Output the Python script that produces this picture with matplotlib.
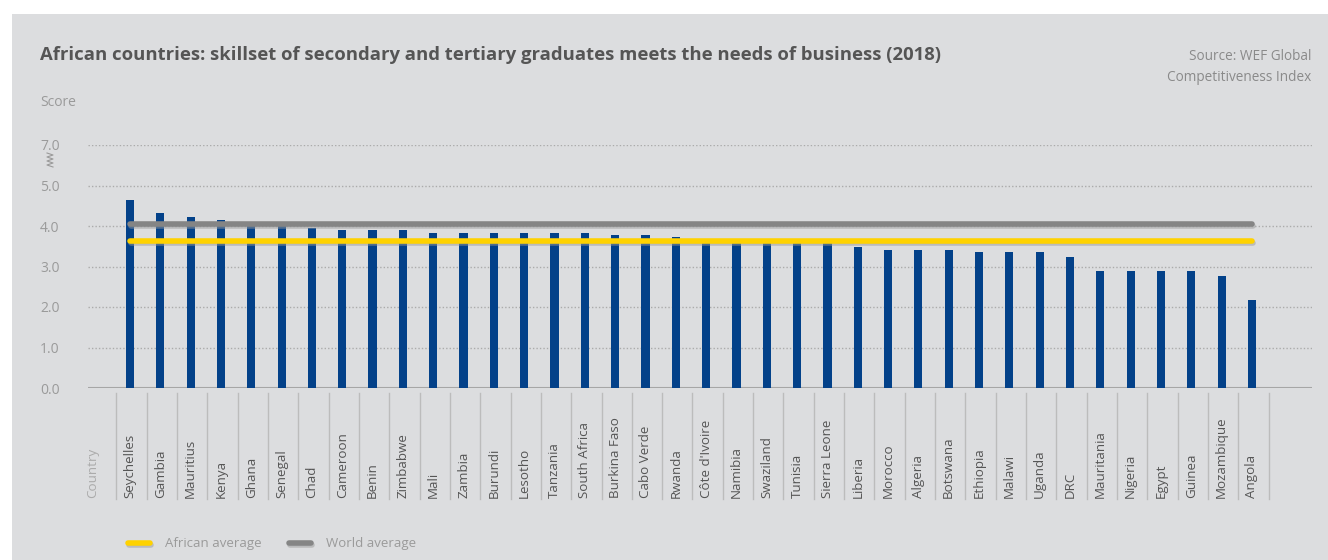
import matplotlib.pyplot as plt
import matplotlib.patheffects as pe
from matplotlib.lines import Line2D
from matplotlib.patches import Rectangle
import matplotlib.transforms as mtransforms

# -------------------------------------------------------------------------- #
# DONNEES
# -------------------------------------------------------------------------- #
pays = ['Seychelles', 'Gambia', 'Mauritius', 'Kenya', 'Ghana', 'Senegal', 'Chad',
        'Cameroon', 'Benin', 'Zimbabwe', 'Mali', 'Zambia', 'Burundi', 'Lesotho',
        'Tanzania', 'South Africa', 'Burkina Faso', 'Cabo Verde', 'Rwanda',
        "Côte d'Ivoire", 'Namibia', 'Swaziland', 'Tunisia', 'Sierra Leone',
        'Liberia', 'Morocco', 'Algeria', 'Botswana', 'Ethiopia', 'Malawi',
        'Uganda', 'DRC', 'Mauritania', 'Nigeria', 'Egypt', 'Guinea',
        'Mozambique', 'Angola']
scores = [4.63, 4.31, 4.21, 4.16, 4.0, 4.0, 3.94,
          3.89, 3.89, 3.89, 3.82, 3.82, 3.82, 3.82,
          3.82, 3.82, 3.77, 3.77, 3.72,
          3.62, 3.6, 3.6, 3.6, 3.6,
          3.47, 3.40, 3.40, 3.40, 3.35, 3.35,
          3.35, 3.23, 2.88, 2.88, 2.88, 2.88,
          2.76, 2.17]
moyenne_afrique = 3.62
moyenne_monde = 4.05

# l'axe est coupe : le 6e trait porte l'etiquette 7.0
graduations = [0, 1, 2, 3, 4, 5, 6]
etiquettes_y = ['0.0', '1.0', '2.0', '3.0', '4.0', '5.0', '7.0']

# -------------------------------------------------------------------------- #
# FIGURE
# -------------------------------------------------------------------------- #
W, H = 1328, 560
fig = plt.figure(figsize=(W / 100, H / 100), dpi=100)
fig.patch.set_facecolor('white')
fond = '#dcdddf'
fig.patches.append(Rectangle((12 / W, 0), 1, 1 - 14 / H, transform=fig.transFigure,
                             facecolor=fond, edgecolor='none', zorder=-10))

police = ['Open Sans', 'DejaVu Sans']

ax = fig.add_axes([88 / W, 1 - 388 / H, (1312 - 88) / W, (388 - 145) / H])
ax.set_facecolor('none')
for s in ax.spines.values():
    s.set_visible(False)

x = list(range(len(pays)))
ax.bar(x, scores, width=0.27, color='#034189', zorder=3)

ombre = [pe.SimpleLineShadow(offset=(0.8, -1.2), shadow_color='#9a9a9a', alpha=0.5), pe.Normal()]
ax.plot([x[0], x[-1]], [moyenne_monde] * 2, color='#858585', lw=4.0,
        solid_capstyle='round', zorder=4, path_effects=ombre)
ax.plot([x[0], x[-1]], [moyenne_afrique] * 2, color='#ffd200', lw=4.0,
        solid_capstyle='round', zorder=5, path_effects=ombre)

ax.set_xlim(-1.385, 38.98)
ax.set_ylim(0, 6)
ax.set_yticks(graduations)
ax.set_yticklabels(etiquettes_y, family=police, fontsize=10, color='#9a9a9a', ha='left')
ax.tick_params(axis='y', length=0, pad=48 / 1.389)
ax.set_xticks([])
for g in graduations[1:]:
    ax.axhline(g, color='#ababab', lw=1, ls=(0, (1, 1.5)), zorder=1)
ax.axhline(0, color='#a6a6a6', lw=1.5, zorder=2)

# separateurs et noms de pays
trans = mtransforms.blended_transform_factory(ax.transData, fig.transFigure)
for i in range(len(pays) + 1):
    xs = i - 0.5 + 0.05
    fig.lines.append(Line2D([xs, xs], [1 - 393 / H, 1 - 499 / H], transform=trans,
                            color='#bcbcbc', lw=1))
for i, p in enumerate(pays):
    fig.text(i, 1 - 498 / H, p, transform=trans, rotation=90, ha='center', va='bottom',
             family=police, fontsize=9.6, color='#555555')
fig.text(93 / W, 1 - 498 / H, 'Country', rotation=90, ha='center', va='bottom',
         family=police, fontsize=9.6, color='#ababab')

# symbole de coupure de l'axe
zx = [47, 53, 47, 53, 47, 53, 47, 53]
zy = [153, 155, 157, 159, 161, 163, 165, 167]
fig.lines.append(Line2D([v / W for v in zx], [1 - v / H for v in zy],
                        transform=fig.transFigure, color='#9a9a9a', lw=0.8))

# textes
fig.text(40 / W, 1 - 55 / H,
         'African countries: skillset of secondary and tertiary graduates meets the needs of business (2018)',
         family=police, fontsize=13.3, fontweight='bold', color='#555555', va='center')
fig.text(1311 / W, 1 - 67 / H, 'Source: WEF Global\nCompetitiveness Index', ha='right',
         va='center', family=police, fontsize=9.8, color='#8a8a8a', linespacing=1.5)
fig.text(40 / W, 1 - 102 / H, 'Score', family=police, fontsize=10, color='#9a9a9a', va='center')

# legende
for x0, c, lab in [(128, '#ffd200', 'African average'), (289, '#858585', 'World average')]:
    fig.lines.append(Line2D([x0 / W, (x0 + 22) / W], [1 - 543 / H] * 2, transform=fig.transFigure,
                            color=c, lw=4, solid_capstyle='round', path_effects=ombre))
    fig.text((x0 + 37) / W, 1 - 543 / H, lab, family=police, fontsize=9.5, color='#9a9a9a',
             va='center')

fig.savefig('out.png', dpi=100, facecolor=fig.get_facecolor())
